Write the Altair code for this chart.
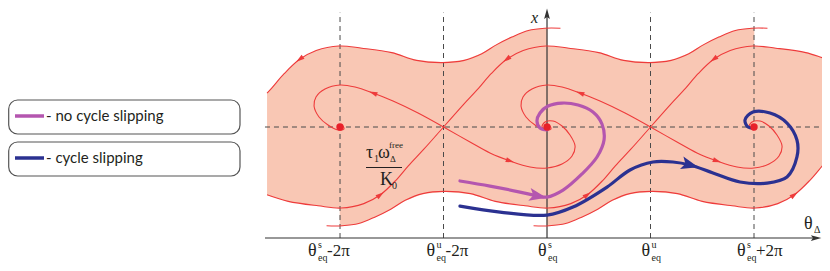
import altair as alt
import numpy as np
import pandas as pd

# ---------------- data ----------------
# θ measured in units of π from θ^s_eq ; x measured in units of τ1·ωΔ^free/K0
tick_u = [-2, -1, 0, 1, 2]
tick_sup = ["s", "u", "s", "u", "s"]
tick_suffix = ["-2π", "-2π", "", "", "+2π"]
stable_u = [-2, 0, 2]
saddle_u = [-3, -1, 1, 3]
x_eq = 1.0

# separatrix (stable manifold) leaving a saddle towards upper right: θ offset, x
sep_du = [0.00, 0.19, 0.34, 0.46, 0.61, 0.77, 0.99, 1.21, 1.50, 1.74, 1.99, 2.20, 2.37, 2.51, 2.66, 2.82, 2.98, 3.13]
sep_x = [1.00, 1.20, 1.35, 1.48, 1.61, 1.69, 1.73, 1.71, 1.67, 1.60, 1.58, 1.60, 1.66, 1.74, 1.81, 1.87, 1.89, 1.89]
# unstable manifold, upper-left branch spiralling into the left stable point
ul_du = [0.00, -0.246, -0.488, -0.681, -0.855, -1.000, -1.145, -1.232, -1.251, -1.203, -1.116, -1.019, -0.961, -0.971]
ul_x = [1.000, 1.126, 1.234, 1.306, 1.360, 1.378, 1.342, 1.270, 1.189, 1.090, 1.018, 0.973, 0.982, 1.009]
# unstable manifold, lower-right branch spiralling into the right stable point
dr_du = [0.00, 0.256, 0.449, 0.643, 0.836, 1.000, 1.145, 1.242, 1.271, 1.222, 1.145, 1.058, 0.981, 0.952, 1.000]
dr_x = [1.000, 0.865, 0.766, 0.694, 0.640, 0.631, 0.667, 0.739, 0.829, 0.928, 1.009, 1.054, 1.045, 1.000, 0.973]

# trajectories
purple_u = [-0.841, -0.551, -0.261, -0.087, 0.000, 0.155, 0.338, 0.483, 0.551, 0.531, 0.444, 0.300, 0.145, 0.010, -0.068, -0.097, -0.068, 0.000]
purple_x = [0.514, 0.468, 0.414, 0.378, 0.369, 0.432, 0.577, 0.730, 0.883, 1.027, 1.135, 1.198, 1.216, 1.189, 1.126, 1.054, 0.991, 0.973]
blue_u = [-0.841, -0.454, 0.000, 0.251, 0.580, 0.802, 1.024, 1.217, 1.382, 1.604, 1.865, 2.126, 2.319, 2.415, 2.415, 2.319, 2.155, 1.990, 1.913, 1.942, 2.010]
blue_x = [0.288, 0.234, 0.207, 0.279, 0.459, 0.613, 0.685, 0.685, 0.658, 0.586, 0.505, 0.495, 0.550, 0.730, 0.883, 1.036, 1.126, 1.135, 1.063, 1.000, 0.991]

legend_labels = ["- no cycle slipping", "- cycle slipping"]

# ---------------- layout / style ----------------
W, H = 814, 255
U_MIN, U_MAX = -5.208, 2.657
V_MIN, V_MAX = -0.225, 2.072
PX_U = W / (U_MAX - U_MIN)
PX_V = H / (V_MAX - V_MIN)
L_EDGE, R_EDGE = -2.705, 2.686

SHADE = "#F9C7B4"
RED = "#EE3B3B"
DOT = "#E8202A"
PURPLE = "#B456AF"
BLUE = "#2B3191"
INK = "#231F20"
DASH = "#4A4A4A"
SERIF = "Liberation Serif"
SANS = "Lato"

xsc = alt.Scale(domain=[U_MIN, U_MAX], nice=False, zero=False)
ysc = alt.Scale(domain=[V_MIN, V_MAX], nice=False, zero=False)


def X(f="u"):
    return alt.X(f"{f}:Q", scale=xsc, axis=None)


def Y(f="v"):
    return alt.Y(f"{f}:Q", scale=ysc, axis=None)


def upper(c):
    return [c + d for d in sep_du], list(sep_x)


def lower(c):
    return [c - d for d in sep_du], [2 * x_eq - v for v in sep_x]


def shifted(c, du, xv):
    return [c + d for d in du], list(xv)


def clip(us, vs, lo, hi):
    out = []
    ins = [lo - 1e-9 <= a <= hi + 1e-9 for a in us]
    for i, (a, b) in enumerate(zip(us, vs)):
        if i > 0 and ins[i] != ins[i - 1]:
            a0, b0 = us[i - 1], vs[i - 1]
            edge = lo if min(a, a0) < lo else hi
            t = (edge - a0) / (a - a0)
            out.append((edge, b0 + t * (b - b0)))
        if ins[i]:
            out.append((a, b))
    return out


def lines_df(curves):
    rows = []
    for cid, pts in enumerate(curves):
        for i, (a, b) in enumerate(pts):
            rows.append({"c": cid, "i": i, "u": a, "v": b})
    return pd.DataFrame(rows)


def heading(u0, v0, u1, v1):
    dx = (u1 - u0) * PX_U
    dy = -(v1 - v0) * PX_V
    return float(np.degrees(np.arctan2(dy, dx)) % 360)


# ---- shaded band ----
top = clip(*upper(-3), L_EDGE, 0) + clip(*upper(-1), 0, 2) + clip(*upper(1), 2, R_EDGE)
bot = clip(*lower(3), 0, R_EDGE) + clip(*lower(1), -2, 0) + clip(*lower(-1), L_EDGE, -2)
poly = pd.DataFrame([{"i": i, "u": a, "v": b} for i, (a, b) in enumerate(top + bot)])
shade = alt.Chart(poly).mark_line(fill=SHADE, stroke=SHADE, strokeWidth=0.6, interpolate="linear").encode(
    x=X(), y=Y(), order="i:Q")

# ---- red phase curves ----
red_curves = []
for c in [-3, -1, 1]:
    red_curves.append(clip(*upper(c), L_EDGE, R_EDGE))
for c in [-1, 1, 3]:
    red_curves.append(clip(*lower(c), L_EDGE, R_EDGE))
for c in [-1, 1]:
    red_curves.append(list(zip(*shifted(c, ul_du, ul_x))))
    red_curves.append(list(zip(*shifted(c, dr_du, dr_x))))
red = alt.Chart(lines_df(red_curves)).mark_line(color=RED, strokeWidth=1.1, interpolate="catmull-rom").encode(
    x=X(), y=Y(), detail="c:N", order="i:Q")

# small arrowheads on red curves
arr = []
for c in [-3, -1, 1]:
    us, vs = upper(c)
    arr.append({"u": us[4], "v": vs[4], "a": heading(us[5], vs[5], us[3], vs[3])})
for c in [-1, 1, 3]:
    us, vs = lower(c)
    arr.append({"u": us[4], "v": vs[4], "a": heading(us[5], vs[5], us[3], vs[3])})
for c in [-1, 1]:
    for du, xv in [(ul_du, ul_x), (dr_du, dr_x)]:
        us, vs = shifted(c, du, xv)
        arr.append({"u": us[3], "v": vs[3], "a": heading(us[2], vs[2], us[4], vs[4])})
ARROW = "M-1,-0.6L1,0L-1,0.6Z"
red_arrows = alt.Chart(pd.DataFrame(arr)).mark_point(shape=ARROW, filled=True, fill=RED, stroke=None, size=70, opacity=1).encode(
    x=X(), y=Y(), angle=alt.Angle("a:Q", scale=None))

# ---- grid: dashed lines ----
vd = pd.DataFrame({"u": [t for t in tick_u if t != 0], "v0": 0.0, "v1": 2.03})
vdash = alt.Chart(vd).mark_rule(color=DASH, strokeDash=[5, 4], strokeWidth=1).encode(x=X(), y=Y("v0"), y2="v1")
hd = pd.DataFrame({"v": [x_eq], "u0": [-2.725], "u1": [U_MAX]})
hdash = alt.Chart(hd).mark_rule(color=DASH, strokeDash=[5, 4], strokeWidth=1).encode(y=Y(), x=X("u0"), x2="u1")

# ---- axes ----
xa = pd.DataFrame({"v": [0.0], "u0": [-2.725], "u1": [2.59]})
x_axis = alt.Chart(xa).mark_rule(color="#333333", strokeWidth=1.2).encode(y=Y(), x=X("u0"), x2="u1")
ya = pd.DataFrame({"u": [0.0], "v0": [0.0], "v1": [2.0]})
y_axis = alt.Chart(ya).mark_rule(color="#333333", strokeWidth=1.2).encode(x=X(), y=Y("v0"), y2="v1")
ah = pd.DataFrame({"u": [2.60, 0.0], "v": [0.0, 2.02], "a": [0.0, 270.0]})
axis_heads = alt.Chart(ah).mark_point(shape="M-1,-0.55L1,0L-1,0.55L-0.6,0Z", filled=True, fill="#333333", stroke=None, size=110, opacity=1).encode(
    x=X(), y=Y(), angle=alt.Angle("a:Q", scale=None))

# ---- stable points ----
dots = alt.Chart(pd.DataFrame({"u": stable_u, "v": x_eq})).mark_circle(color=DOT, size=55, opacity=1).encode(x=X(), y=Y())

# ---- trajectories ----
pdf = pd.DataFrame({"i": range(len(purple_u)), "u": purple_u, "v": purple_x})
bdf = pd.DataFrame({"i": range(len(blue_u)), "u": blue_u, "v": blue_x})
p_line = alt.Chart(pdf).mark_line(color=PURPLE, strokeWidth=3.2, interpolate="catmull-rom", strokeCap="round").encode(x=X(), y=Y(), order="i:Q")
b_line = alt.Chart(bdf).mark_line(color=BLUE, strokeWidth=3.2, interpolate="catmull-rom", strokeCap="round").encode(x=X(), y=Y(), order="i:Q")
BIG = "M-1,-0.75L1,0L-1,0.75L-0.55,0Z"
pk, bk = 3, 8
p_head = alt.Chart(pd.DataFrame([{"u": purple_u[pk], "v": purple_x[pk],
                                  "a": heading(purple_u[pk - 1], purple_x[pk - 1], purple_u[pk + 1], purple_x[pk + 1])}])).mark_point(
    shape=BIG, filled=True, fill=PURPLE, stroke=None, size=300, opacity=1).encode(x=X(), y=Y(), angle=alt.Angle("a:Q", scale=None))
b_head = alt.Chart(pd.DataFrame([{"u": blue_u[bk], "v": blue_x[bk],
                                  "a": heading(blue_u[bk - 1], blue_x[bk - 1], blue_u[bk + 1], blue_x[bk + 1])}])).mark_point(
    shape=BIG, filled=True, fill=BLUE, stroke=None, size=300, opacity=1).encode(x=X(), y=Y(), angle=alt.Angle("a:Q", scale=None))

# ---- text helpers ----
ONE = pd.DataFrame({"k": [0]})


def txt(s, x, y, size, font=SERIF, style="normal", color=INK):
    return alt.Chart(ONE).mark_text(text=s, font=font, fontSize=size, fontStyle=style, align="left",
                                    baseline="alphabetic", color=color).encode(x=alt.value(x - 8), y=alt.value(y - 8))


texts = []
# tick labels
tick_left = [-32, -17, -9, -9, -17]
for u, sup, suf, off in zip(tick_u, tick_sup, tick_suffix, tick_left):
    base = alt.Chart(pd.DataFrame({"u": [u]}))
    parts = [("θ", off, 256, 18), (sup, off + 10, 248, 10), ("eq", off + 10, 261, 10)]
    if suf:
        parts.append((suf, off + 19, 256, 17))
    for s, dx, yy, fs in parts:
        texts.append(base.mark_text(text=s, font=SERIF, fontSize=fs, align="left", baseline="alphabetic",
                                    color=INK, dx=dx).encode(x=X(), y=alt.value(yy - 8)))

# axis titles
texts.append(txt("x", 531, 23, 16, style="italic"))
texts.append(txt("θ", 804, 229, 18))
texts.append(txt("Δ", 814, 233, 10))

# equilibrium level label (fraction)
texts += [
    txt("τ", 366, 158, 18), txt("1", 374, 162, 10), txt("ω", 378, 158, 18),
    txt("Δ", 390, 162, 9), txt("free", 389, 148, 9),
    txt("K", 380, 185, 18), txt("0", 392, 189, 10),
]
frac_bar = alt.Chart(ONE).mark_rule(color=INK, strokeWidth=1).encode(
    x=alt.value(366 - 8), x2=alt.value(402 - 8), y=alt.value(167.5 - 8))

# ---- legend boxes ----
legend = []
for k, (lab, col) in enumerate(zip(legend_labels, [PURPLE, BLUE])):
    y0 = 100 + 42 * k
    legend.append(alt.Chart(ONE).mark_rect(fill="white", stroke="#555555", strokeWidth=1.2, cornerRadius=9).encode(
        x=alt.value(0.7), x2=alt.value(240 - 8), y=alt.value(y0 - 8), y2=alt.value(y0 + 34 - 8)))
    legend.append(alt.Chart(ONE).mark_rule(color=col, strokeWidth=3.5).encode(
        x=alt.value(15 - 8), x2=alt.value(44 - 8), y=alt.value(y0 + 16 - 8)))
    legend.append(txt(lab, 46, y0 + 21, 15, font=SANS))

chart = alt.layer(
    shade, vdash, hdash, x_axis, y_axis, axis_heads, red, red_arrows,
    p_line, b_line, p_head, b_head, dots, frac_bar, *texts, *legend
).properties(
    width=W, height=H, autosize=alt.AutoSizeParams(type="none"), padding=0, background="white"
).configure_view(stroke=None)

chart.save("out.html", embed_options={"renderer": "svg", "actions": False})
